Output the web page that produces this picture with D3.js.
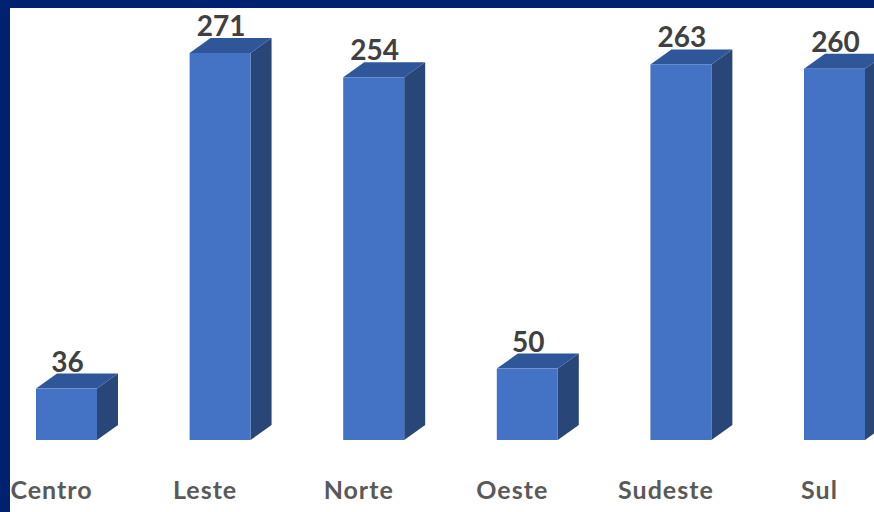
<!DOCTYPE html>
<html><head><meta charset="utf-8">
<script src="https://cdn.jsdelivr.net/npm/d3@7/dist/d3.min.js"></script>
<style>html,body{margin:0;padding:0;background:#fff;}svg{display:block;}</style>
</head><body>
<script>
const categories = ["Centro", "Leste", "Norte", "Oeste", "Sudeste", "Sul"];
const values = [36, 271, 254, 50, 263, 260];

const W = 874, H = 512;
const svg = d3.select("body").append("svg").attr("width", W).attr("height", H);
svg.append("rect").attr("width", W).attr("height", H).attr("fill", "#ffffff");

const x = d3.scaleBand().domain(categories).range([-10.3, 911.3]).paddingInner(0.603).paddingOuter(0.3015);
const y = d3.scaleLinear().domain([0, 300]).range([440, 11.6]);
const dx = 21, dy = 15;

const g = svg.append("g");
const bars = g.selectAll("g.bar").data(categories.map((c, i) => ({c, v: values[i]}))).join("g").attr("class", "bar");

// side face
bars.append("path").attr("fill", "#294679")
  .attr("d", d => {
    const x1 = x(d.c) + x.bandwidth(), yt = y(d.v), yb = y(0);
    return `M${x1},${yt}L${x1+dx},${yt-dy}L${x1+dx},${yb-dy}L${x1},${yb}Z`;
  });
// top face
bars.append("path").attr("fill", "#30569A")
  .attr("d", d => {
    const x0 = x(d.c), x1 = x0 + x.bandwidth(), yt = y(d.v);
    return `M${x0},${yt}L${x0+dx},${yt-dy}L${x1+dx},${yt-dy}L${x1},${yt}Z`;
  });
// front face
bars.append("rect").attr("fill", "#4472C4")
  .attr("x", d => x(d.c)).attr("y", d => y(d.v))
  .attr("width", x.bandwidth()).attr("height", d => y(0) - y(d.v));

// value labels
bars.append("text")
  .attr("x", d => x(d.c) + x.bandwidth() / 2 + 1)
  .attr("y", d => y(d.v) - dy - 2)
  .attr("text-anchor", "middle")
  .attr("font-family", "Lato, 'Open Sans', sans-serif")
  .attr("font-weight", "bold").attr("font-size", 28)
  .attr("fill", "#404040")
  .text(d => d.v);

// category labels
g.selectAll("text.cat").data(categories).join("text").attr("class", "cat")
  .attr("x", d => x(d) + x.bandwidth() / 2 - 15)
  .attr("y", 499)
  .attr("text-anchor", "middle")
  .attr("font-family", "Lato, 'Open Sans', sans-serif")
  .attr("font-weight", "bold").attr("font-size", 25)
  .attr("letter-spacing", 1)
  .attr("fill", "#595959")
  .text(d => d);

// frame borders (top and left)
svg.append("rect").attr("x", 0).attr("y", 0).attr("width", W).attr("height", 8).attr("fill", "#002070");
svg.append("rect").attr("x", 0).attr("y", 0).attr("width", 10).attr("height", H).attr("fill", "#002070");
</script>
</body></html>
